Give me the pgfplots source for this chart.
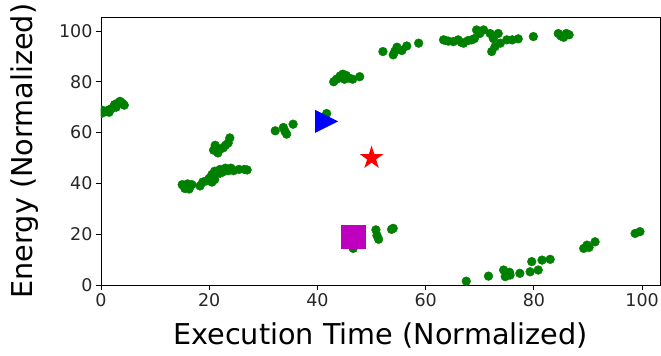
\documentclass[border=0pt]{standalone}
\usepackage{pgfplots}
\pgfplotsset{compat=1.18}
\usepackage{fontspec}
\setmainfont{DejaVu Sans}
\definecolor{mgreen}{RGB}{0,128,0}
\definecolor{mmag}{RGB}{191,0,191}
\pgfdeclareplotmark{rtri}{%
  \pgfpathmoveto{\pgfqpoint{\pgfplotmarksize}{0pt}}%
  \pgfpathlineto{\pgfqpoint{-\pgfplotmarksize}{\pgfplotmarksize}}%
  \pgfpathlineto{\pgfqpoint{-\pgfplotmarksize}{-\pgfplotmarksize}}%
  \pgfpathclose\pgfusepathqfill}
\pgfdeclareplotmark{mstar}{%
  \pgfpathmoveto{\pgfpointpolar{90}{\pgfplotmarksize}}%
  \pgfpathlineto{\pgfpointpolar{126}{0.381966\pgfplotmarksize}}%
  \pgfpathlineto{\pgfpointpolar{162}{\pgfplotmarksize}}%
  \pgfpathlineto{\pgfpointpolar{198}{0.381966\pgfplotmarksize}}%
  \pgfpathlineto{\pgfpointpolar{234}{\pgfplotmarksize}}%
  \pgfpathlineto{\pgfpointpolar{270}{0.381966\pgfplotmarksize}}%
  \pgfpathlineto{\pgfpointpolar{306}{\pgfplotmarksize}}%
  \pgfpathlineto{\pgfpointpolar{342}{0.381966\pgfplotmarksize}}%
  \pgfpathlineto{\pgfpointpolar{18}{\pgfplotmarksize}}%
  \pgfpathlineto{\pgfpointpolar{54}{0.381966\pgfplotmarksize}}%
  \pgfpathclose\pgfusepathqfill}
\begin{document}
\begin{tikzpicture}
\begin{axis}[
  scale only axis,
  width=559bp, height=268bp,
  xmin=0, xmax=103.3, ymin=0, ymax=105.5,
  xtick={0,20,40,60,80,100},
  ytick={0,20,40,60,80,100},
  xtick pos=lower, ytick pos=left,
  tick align=outside,
  major tick length=5bp,
  tick style={black, line width=0.9bp},
  axis line style={black, line width=0.9bp},
  ticklabel style={font=\fontsize{17.5bp}{20bp}\selectfont, text=black!85},
  /pgf/number format/assume math mode=true,
  xlabel={Execution Time (Normalized)},
  ylabel={Energy (Normalized)},
  label style={font=\fontsize{28.7bp}{32bp}\selectfont},
  xlabel style={at={(axis description cs:0.5,-0.187)}, anchor=center},
  ylabel style={at={(axis description cs:-0.136,0.5)}, anchor=center},
  clip=true, clip marker paths=true,
]
\addplot[only marks, mark=*, mark size=4.4bp, color=mgreen, mark options={draw=mgreen, fill=mgreen}] coordinates {
% cluster A
(0,67.5) (0.5,68) (1,68.5) (1.5,69) (2,69.5) (2.5,71) (3,71.5) (3.5,72.3) (4,71.5) (4.3,70.8) (1.5,68) (2.8,70) (0.2,68.8)
% cluster B lower
(15,39.5) (15.8,38.5) (16.3,37.8) (16.8,39.5) (15.5,38) (16,39.8)
(18.3,39) (18.8,40.5)
(19.5,41) (20,42) (20.5,43.5) (21,41.5) (21.5,44) (22,45.5) (22.5,44.5) (23,46) (24,46) (24.5,45) (25.5,45.5) (26.5,45.5) (27,45.3) (23.5,45) (20.5,40.5) (21,44.8) (22,44)
% cluster B upper
(20.8,53.1) (21.6,52) (22.6,54) (23.5,55.9) (23.8,57.9) (21.1,55) (22,53.5) (23,55)
% cluster C
(32.2,60.7) (33.7,62) (34.3,59.4) (35.5,63.3) (34,60.5)
(41.7,67.5)
% cluster D
(43,80) (43.5,81) (44,81.5) (44.7,83) (45.3,82.5) (45.8,81.5) (46.5,81) (47.8,82) (45,81) (44.2,82.3)
% cluster E
(52.1,91.9) (54,90.6) (54.7,93.6) (55.6,92.3) (56.5,94.1) (58.7,95.2) (54.3,92)
% cluster F
(63.3,96.5) (63.6,96.3) (65.1,95.8) (67,95.2) (68.5,96.5) (69.4,100.4) (70.7,100.4) (71.9,99) (73.4,99) (72.2,91.9) (72.8,93.8) (73.8,95.2) (75,96.5) (77.1,96.9) (79.9,97.8) (66,96.5) (70,99) (69,97) (72.5,97) (64.2,96) (66.6,95.5) (67.8,96.2) (76,96.5)
(84.5,99) (85,98) (85.5,97.5) (86,99) (86.5,98.5)
% lower right
(67.5,1.5) (71.6,3.5) (74.4,5.9) (74.7,3.3) (75.6,3.9) (77.4,4.6) (79.3,5.2) (80.8,5.9) (79.6,9.2) (81.5,9.8) (83,10.1) (75.5,5)
(89.2,14.4) (89.8,15.7) (91.3,17) (90.2,14.8) (98.7,20.3) (99.6,21)
% near square
(46.6,14.4) (50.8,21.7) (51.3,18) (53.7,21.9) (51,19.5) (54,22.3)
};
\addplot[only marks, mark=rtri, mark size=11.5bp, color=blue, mark options={fill=blue}] coordinates {(41.7,64.4)};
\addplot[only marks, mark=mstar, mark size=12.3bp, color=red, mark options={fill=red}] coordinates {(50,50)};
\addplot[only marks, mark=square*, mark size=11.7bp, color=mmag, mark options={fill=mmag, draw=mmag}] coordinates {(46.6,19)};
\end{axis}
\pgfresetboundingbox
\path (current axis.south west) ++(-101bp,-71bp) rectangle ++(661bp,356bp);
\end{tikzpicture}
\end{document}
